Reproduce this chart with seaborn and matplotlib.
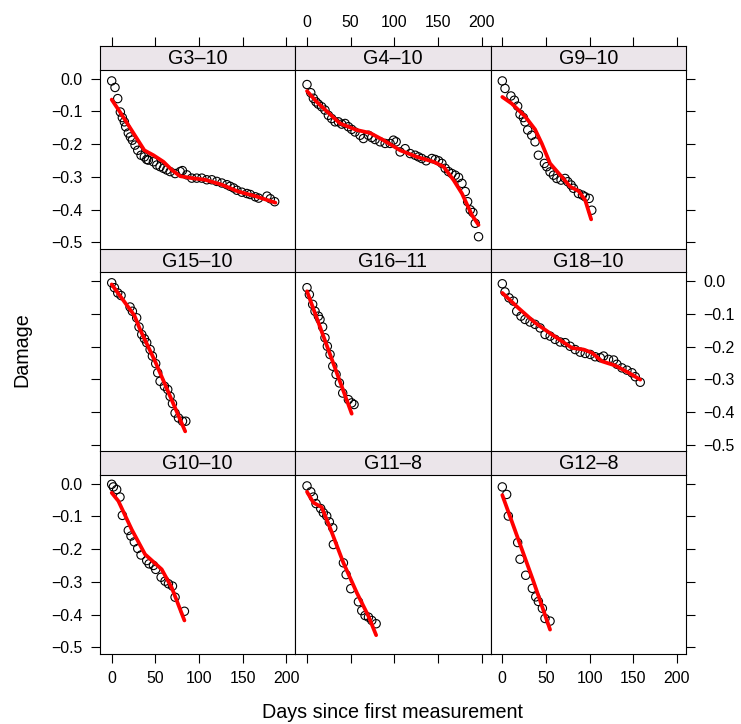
import matplotlib
matplotlib.use("Agg")
import matplotlib.pyplot as plt
import pandas as pd
import seaborn as sns

# ---------------- data ----------------
panel_names = ["G3–10", "G4–10", "G9–10", "G15–10", "G16–11", "G18–10",
               "G10–10", "G11–8", "G12–8"]

g3_10_day = [0, 3.8, 6.9, 9.9, 12.2, 14.5, 16, 19, 21.4, 23.7, 26.7, 29.8, 33.6, 37.4, 40.1,
             42, 47.8, 51.6, 55.4, 59.3, 63, 66.9, 72.6, 78.4, 81, 86, 91.7, 97.4, 103.2, 108.9,
             114.7, 120.4, 126.2, 131.9, 135.7, 139.6, 143.4, 149.1, 154.9, 158.7, 164.5, 168.3,
             177.9, 181.7, 186.7]
g3_10_dmg = [-0.007, -0.027, -0.061, -0.102, -0.119, -0.132, -0.147, -0.166, -0.178, -0.188,
             -0.203, -0.219, -0.234, -0.239, -0.247, -0.249, -0.254, -0.264, -0.269, -0.274,
             -0.279, -0.284, -0.290, -0.284, -0.281, -0.294, -0.304, -0.304, -0.304, -0.309,
             -0.309, -0.314, -0.319, -0.324, -0.329, -0.334, -0.341, -0.347, -0.351, -0.354,
             -0.361, -0.365, -0.359, -0.367, -0.376]
g3_10_fit_day = [0, 9.5, 22.9, 37.4, 47.8, 59.3, 68.8, 78.4, 91.7, 107, 126, 145, 164.5, 187.5]
g3_10_fit_dmg = [-0.064, -0.102, -0.158, -0.219, -0.234, -0.254, -0.279, -0.298, -0.304,
                 -0.309, -0.324, -0.345, -0.359, -0.379]

g4_10_day = [0, 4.3, 7.3, 10.3, 13, 16.8, 20.6, 24.5, 28.3, 32.1, 36, 39.8, 43.6, 47.4, 51.2,
             55, 60.8, 64.6, 70.4, 74.2, 78, 83.7, 89.5, 95.2, 99, 102.1, 106.7, 112.4, 118.2,
             123.9, 127.7, 131.5, 136.5, 143, 146.9, 150.7, 154.5, 158.3, 162.1, 166, 169.8,
             173.6, 177.5, 181.3, 184, 187, 190, 192.7, 196.5]
g4_10_dmg = [-0.018, -0.043, -0.060, -0.071, -0.078, -0.086, -0.096, -0.112, -0.122, -0.132,
             -0.132, -0.139, -0.137, -0.147, -0.155, -0.163, -0.173, -0.183, -0.173, -0.180,
             -0.186, -0.193, -0.198, -0.198, -0.188, -0.193, -0.224, -0.214, -0.229, -0.234,
             -0.239, -0.244, -0.251, -0.244, -0.247, -0.251, -0.259, -0.274, -0.284, -0.290,
             -0.295, -0.302, -0.320, -0.345, -0.376, -0.401, -0.409, -0.442, -0.483]
g4_10_fit_day = [0, 11.1, 26.4, 37.9, 57, 72.3, 87.6, 106.7, 125.8, 144.9, 156.4, 167.9,
                 177.5, 188.9, 196.5]
g4_10_fit_dmg = [-0.038, -0.071, -0.109, -0.137, -0.157, -0.166, -0.188, -0.219, -0.239,
                 -0.254, -0.269, -0.310, -0.351, -0.417, -0.447]

g9_10_day = [0, 3.1, 9.9, 13.8, 17.6, 20.3, 24.1, 26, 29.1, 33.7, 37.5, 41.3, 48.2, 50.9, 54.7,
             58.6, 62.4, 67.3, 71.9, 75, 78.8, 81.5, 87.2, 91.8, 94.9, 99.5, 102.5]
g9_10_dmg = [-0.007, -0.030, -0.053, -0.066, -0.084, -0.109, -0.119, -0.132, -0.157, -0.173,
             -0.193, -0.234, -0.259, -0.269, -0.285, -0.295, -0.305, -0.310, -0.305, -0.315,
             -0.325, -0.335, -0.351, -0.356, -0.361, -0.366, -0.402]
g9_10_fit_day = [0, 10.7, 26, 37.5, 45.2, 54.7, 68.1, 77.7, 87.2, 94.9, 101.8]
g9_10_fit_dmg = [-0.056, -0.076, -0.115, -0.155, -0.198, -0.259, -0.300, -0.330, -0.343,
                 -0.371, -0.430]

g15_10_day = [0, 3.1, 6.9, 10.7, 21, 23.7, 28.6, 31.3, 34.4, 37.5, 40.1, 44, 46.6, 50.4, 52.7,
              55.4, 60.4, 64.2, 66.9, 69.6, 72.6, 76.5, 81.1, 84.9]
g15_10_dmg = [-0.005, -0.020, -0.036, -0.044, -0.079, -0.092, -0.112, -0.140, -0.163, -0.176,
              -0.188, -0.209, -0.229, -0.252, -0.280, -0.306, -0.321, -0.331, -0.352, -0.374,
              -0.403, -0.418, -0.428, -0.428]
g15_10_fit_day = [0, 26, 32.5, 49.7, 84.2]
g15_10_fit_dmg = [-0.010, -0.105, -0.148, -0.245, -0.459]

g16_11_day = [0, 2.7, 6.5, 9.2, 13, 14.9, 17.9, 20.6, 23.3, 26.4, 29.5, 33.3, 37.1, 40.9,
              47.4, 51.2, 53.9]
g16_11_dmg = [-0.020, -0.041, -0.071, -0.092, -0.107, -0.117, -0.140, -0.173, -0.199, -0.224,
              -0.260, -0.285, -0.311, -0.342, -0.362, -0.372, -0.377]
g16_11_fit_day = [0, 51.2]
g16_11_fit_dmg = [-0.031, -0.405]

g18_10_day = [0, 3.1, 7.7, 12.7, 16.5, 21.4, 26, 31.8, 37.5, 43.3, 49, 54.8, 60.5, 66.3, 72,
              77.7, 83.5, 89.2, 95, 100.7, 106.4, 112.2, 116, 121.7, 127.5, 131.3, 137, 142.8,
              148.5, 152.3, 158]
g18_10_dmg = [-0.008, -0.033, -0.051, -0.061, -0.092, -0.107, -0.117, -0.125, -0.132, -0.143,
              -0.163, -0.168, -0.178, -0.186, -0.188, -0.199, -0.209, -0.217, -0.221, -0.224,
              -0.231, -0.234, -0.229, -0.239, -0.241, -0.254, -0.265, -0.272, -0.280, -0.292,
              -0.309]
g18_10_fit_day = [0, 18.4, 37.5, 56.7, 79.7, 93.1, 102.7, 114.2, 129.5, 144.8, 158]
g18_10_fit_dmg = [-0.036, -0.082, -0.127, -0.163, -0.204, -0.209, -0.219, -0.245, -0.258,
                  -0.280, -0.301]

g10_10_day = [0, 1.9, 5.7, 9.5, 12.2, 19, 22.1, 25.9, 29.8, 33.6, 40.1, 42.8, 47.8, 50.4,
              56.6, 61.1, 65, 69.6, 72.6, 83.3]
g10_10_dmg = [-0.002, -0.010, -0.018, -0.041, -0.097, -0.143, -0.160, -0.178, -0.198, -0.218,
              -0.235, -0.245, -0.250, -0.262, -0.286, -0.298, -0.306, -0.313, -0.347, -0.390]
g10_10_fit_day = [0, 7.6, 22.9, 38.2, 57.3, 68.8, 83.3]
g10_10_fit_dmg = [-0.028, -0.053, -0.140, -0.216, -0.262, -0.318, -0.418]

g11_8_day = [0, 4.3, 7.3, 10.3, 15.7, 18.7, 22.6, 25.6, 29.5, 30.2, 41.7, 44.8, 50.1, 58.9,
             62.7, 66.5, 70.4, 74.2, 79.2]
g11_8_dmg = [-0.007, -0.025, -0.041, -0.061, -0.076, -0.089, -0.099, -0.117, -0.135, -0.186,
             -0.242, -0.278, -0.321, -0.361, -0.388, -0.403, -0.408, -0.418, -0.428]
g11_8_fit_day = [0, 7.3, 16.8, 26.4, 41.7, 57, 70.4, 79.2]
g11_8_fit_dmg = [-0.025, -0.058, -0.072, -0.135, -0.242, -0.333, -0.405, -0.463]

g12_8_day = [0, 5, 6.9, 17.6, 20.3, 26.8, 34.4, 38.3, 41.3, 45.9, 48.9, 54.7]
g12_8_dmg = [-0.010, -0.033, -0.099, -0.180, -0.231, -0.280, -0.320, -0.346, -0.360, -0.381,
             -0.412, -0.420]
g12_8_fit_day = [0, 35.6, 54.7]
g12_8_fit_dmg = [-0.035, -0.298, -0.446]

x_ticks = [0, 50, 100, 150, 200]
y_ticks = [0.0, -0.1, -0.2, -0.3, -0.4, -0.5]
x_label = "Days since first measurement"
y_label = "Damage"

points = [(g3_10_day, g3_10_dmg), (g4_10_day, g4_10_dmg), (g9_10_day, g9_10_dmg),
          (g15_10_day, g15_10_dmg), (g16_11_day, g16_11_dmg), (g18_10_day, g18_10_dmg),
          (g10_10_day, g10_10_dmg), (g11_8_day, g11_8_dmg), (g12_8_day, g12_8_dmg)]
fits = [(g3_10_fit_day, g3_10_fit_dmg), (g4_10_fit_day, g4_10_fit_dmg),
        (g9_10_fit_day, g9_10_fit_dmg), (g15_10_fit_day, g15_10_fit_dmg),
        (g16_11_fit_day, g16_11_fit_dmg), (g18_10_fit_day, g18_10_fit_dmg),
        (g10_10_fit_day, g10_10_fit_dmg), (g11_8_fit_day, g11_8_fit_dmg),
        (g12_8_fit_day, g12_8_fit_dmg)]

# ---------------- style ----------------
sns.set_theme(style="white")
plt.rcParams['font.family'] = ['Liberation Sans', 'DejaVu Sans']
for k in ["text.color", "axes.labelcolor", "xtick.color", "ytick.color", "axes.edgecolor"]:
    plt.rcParams[k] = "black"

W, H = 741, 724
fig = plt.figure(figsize=(W / 100, H / 100), dpi=100)

col_left = [100, 295.3, 490.6]
col_w = 195.3
row_top = [46, 248.5, 451]
strip_h = 23.8
cell_h = 202.5
xlim = (-13.4, 210.3)
ylim = (-0.519, 0.027)
tick_fs = 11.4
lab_fs = 14.2
strip_color = "#EBE5EA"

ytick_labels = [f"{v:.1f}".replace("-", "\u2212") for v in y_ticks]
ytick_labels[0] = "0.0"

for i, name in enumerate(panel_names):
    r, c = divmod(i, 3)
    L = col_left[c]
    top = row_top[r]
    ax = fig.add_axes([L / W, 1 - (top + cell_h) / H, col_w / W, (cell_h - strip_h) / H])
    sax = fig.add_axes([L / W, 1 - (top + strip_h) / H, col_w / W, strip_h / H])

    pdf = pd.DataFrame({"day": points[i][0], "dmg": points[i][1]})
    fdf = pd.DataFrame({"day": fits[i][0], "dmg": fits[i][1]})
    sns.scatterplot(data=pdf, x="day", y="dmg", ax=ax, marker="o", s=36,
                    facecolor="none", edgecolor="black", linewidth=0.8, zorder=2)
    coll = ax.collections[-1]
    coll.set_facecolor("none")
    coll.set_edgecolor("black")
    sns.lineplot(data=fdf, x="day", y="dmg", ax=ax, color="red", linewidth=2.7,
                 sort=False, estimator=None, zorder=3)

    ax.set_xlim(*xlim)
    ax.set_ylim(*ylim)
    ax.set_xticks(x_ticks)
    ax.set_yticks(y_ticks)
    ax.set_yticklabels(ytick_labels)
    ax.set_xlabel("")
    ax.set_ylabel("")
    ax.tick_params(direction="out", length=6.5, width=0.8, labelsize=tick_fs, pad=6,
                   bottom=(r == 2), labelbottom=(r == 2 and c != 1),
                   top=False, labeltop=False,
                   left=(c == 0), labelleft=(c == 0 and r != 1),
                   right=(c == 2), labelright=(c == 2 and r == 1))
    for sp in ax.spines.values():
        sp.set_color("black")
        sp.set_linewidth(0.8)
    ax.spines["top"].set_visible(False)
    if r < 2:
        ax.spines["bottom"].set_visible(False)

    sax.set_facecolor(strip_color)
    sax.set_xlim(*xlim)
    sax.set_ylim(0, 1)
    sax.set_xticks(x_ticks)
    sax.set_yticks([])
    sax.tick_params(direction="out", length=6.5, width=0.8, labelsize=tick_fs, pad=5,
                    top=(r == 0), labeltop=(r == 0 and c == 1),
                    bottom=False, labelbottom=False, left=False, right=False)
    for sp in sax.spines.values():
        sp.set_color("black")
        sp.set_linewidth(0.8)
    sax.text(0.5, 0.47, name, transform=sax.transAxes, ha="center", va="center",
             fontsize=lab_fs)

fig.text(393 / W, 1 - 713 / H, x_label, ha="center", va="center", fontsize=lab_fs)
fig.text(22 / W, 1 - 349.5 / H, y_label, ha="center", va="center", rotation=90,
         fontsize=lab_fs)

fig.savefig("out.png", dpi=100)
